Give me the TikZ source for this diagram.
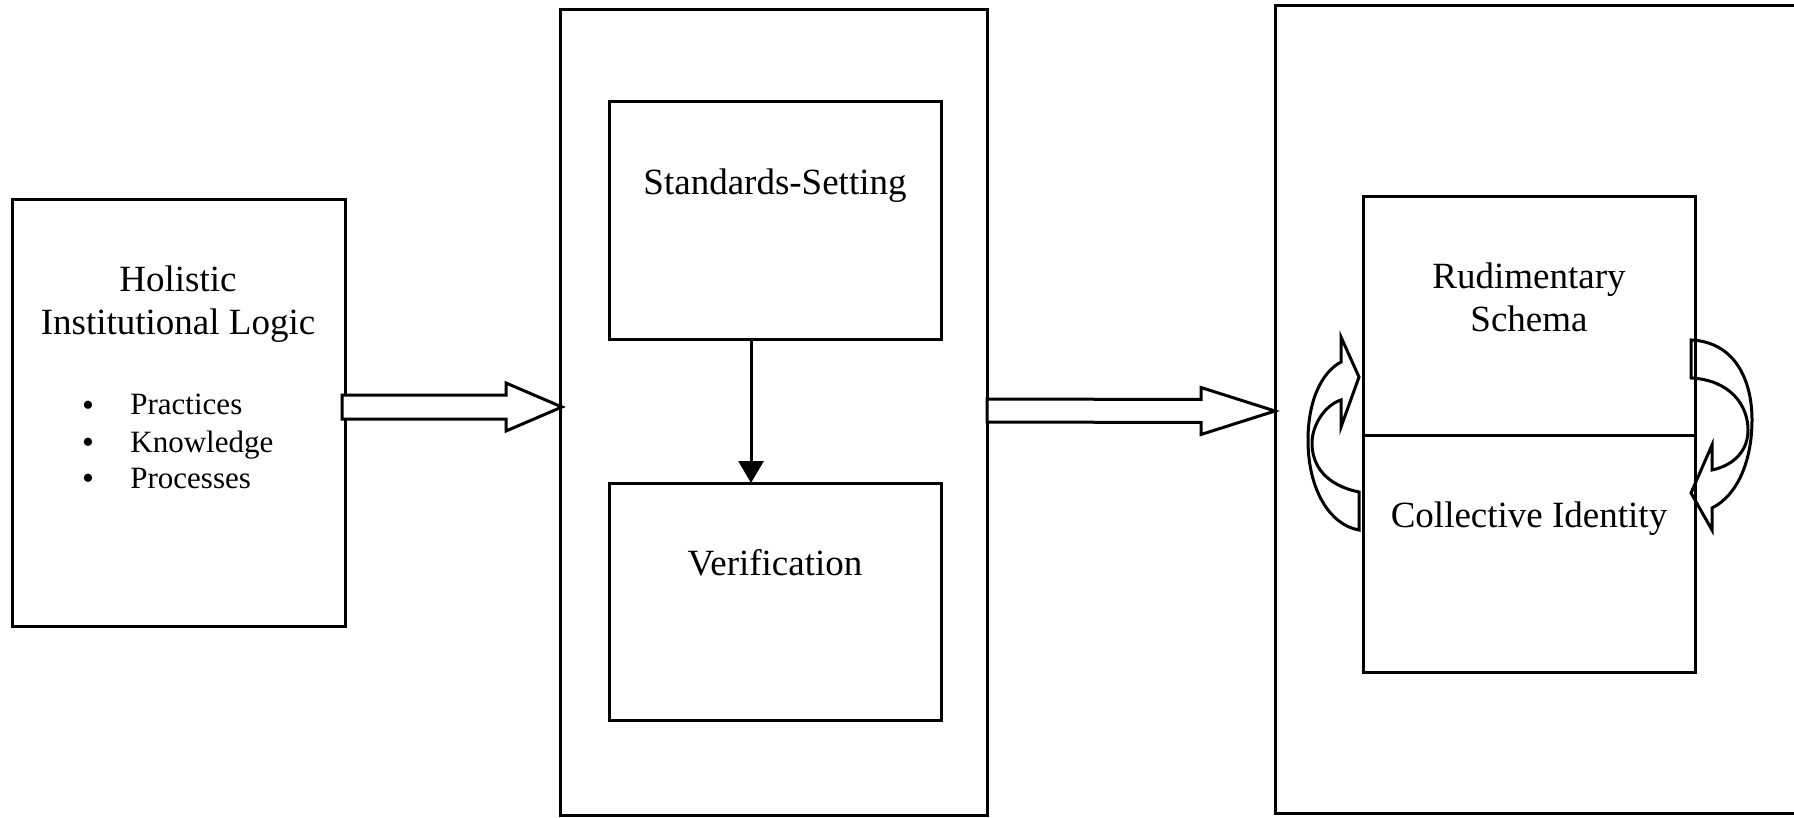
\documentclass[tikz,border=0pt]{standalone}
\usepackage{fontspec}
\setmainfont{Liberation Serif}
\usetikzlibrary{arrows.meta,calc}
\begin{document}
\begin{tikzpicture}[x=0.5pt,y=-0.5pt,
  box/.style={draw=black,line width=1.5pt,rectangle,inner sep=0pt,outer sep=0pt,fill=white},
  lbl/.style={anchor=base,inner sep=0pt,font=\fontsize{18.5pt}{22pt}\selectfont},
  itm/.style={anchor=base west,inner sep=0pt,font=\fontsize{15.5pt}{18pt}\selectfont},
  dot/.style={anchor=base,inner sep=0pt,text height=8pt,text depth=0pt,font=\fontsize{17pt}{18pt}\selectfont},
  blk/.style={draw=black,line width=1.5pt,fill=white,line join=miter},
  curv/.style={draw=black,line width=1.5pt,line join=miter},
  link/.style={line width=1.5pt,-{Triangle[width=12.5pt,length=11pt]}}]
\clip (0,0) rectangle (1794,818);
\fill[white] (0,0) rectangle (1794,818);

% boxes
\node[box,minimum width=166.5pt,minimum height=213pt] (lbox) at (178.5,413) {};
\node[box,minimum width=213.5pt,minimum height=402.5pt] (mid) at (773.5,412.5) {};
\node[box,minimum width=166pt,minimum height=119pt] (std) at (775,221) {};
\node[box,minimum width=166pt,minimum height=118.5pt] (ver) at (775,601.5) {};
\node[box,minimum width=312.5pt,minimum height=403.5pt] (rbig) at (1587.5,409.5) {};
\node[box,minimum width=166pt,minimum height=119pt] (rud) at (1529,316) {};
\node[box,minimum width=166pt,minimum height=118.5pt] (coll) at (1529,553.5) {};

% texts
\node[lbl] (t1) at (178,292) {Holistic};
\node[lbl] (t2) at (178,335) {Institutional Logic};
\node[dot] (b1) at (88,416) {•};
\node[dot] (b2) at (88,453) {•};
\node[dot] (b3) at (88,489) {•};
\node[itm] (i1) at (130,415) {Practices};
\node[itm] (i2) at (130,452) {Knowledge};
\node[itm] (i3) at (130,488) {Processes};
\node[lbl] (t3) at (775,195) {Standards-Setting};
\node[lbl] (t4) at (775,575) {Verification};
\node[lbl] (t5) at (1529,289) {Rudimentary};
\node[lbl] (t6) at (1529,332) {Schema};
\node[lbl] (t7) at (1529,527) {Collective Identity};

% vertical arrow
\draw[link] ([xshift=-12pt]std.south) -- ([xshift=-12pt]ver.north);

% block arrow 1
\coordinate (a1s) at ($(lbox.east)+(-3,-6)$);
\coordinate (a1t) at ($(mid.west)+(2,-5.5)$);
\draw[blk] ([yshift=6pt]a1s) -- ([xshift=-28pt,yshift=6pt]a1t) -- ([xshift=-28pt,yshift=12pt]a1t)
  -- (a1t) -- ([xshift=-28pt,yshift=-12pt]a1t) -- ([xshift=-28pt,yshift=-6pt]a1t)
  -- ([yshift=-6pt]a1s) -- cycle;

% block arrow 2
\coordinate (a2s) at ($(mid.east)+(0,-2)$);
\coordinate (a2t) at ($(rbig.west)+(0,1.5)$);
\draw[blk] ([yshift=5.75pt]a2s) -- ([xshift=-37pt,yshift=5.75pt]a2t) -- ([xshift=-37pt,yshift=11.75pt]a2t)
  -- (a2t) -- ([xshift=-37pt,yshift=-11.75pt]a2t) -- ([xshift=-37pt,yshift=-5.75pt]a2t)
  -- ([yshift=-5.75pt]a2s) -- cycle;

% left curved arrow
\draw[curv] (1359,530) -- (1359,492)
  .. controls (1325,485) and (1312,465) .. (1312,443)
  .. controls (1312,425) and (1325,405) .. (1341,400)
  -- (1341,427) -- (1359,377) -- (1341,337) -- (1341,362)
  .. controls (1322,372) and (1308,400) .. (1308,440)
  .. controls (1308,490) and (1330,525) .. (1359,530) -- cycle;

% right curved arrow
\draw[curv] (1691,340) -- (1691,378)
  .. controls (1730,380) and (1748,405) .. (1748,430)
  .. controls (1748,450) and (1735,465) .. (1712,470)
  -- (1712,445) -- (1691,493) -- (1712,530) -- (1712,508)
  .. controls (1738,495) and (1752,460) .. (1752,420)
  .. controls (1752,380) and (1735,342) .. (1691,340) -- cycle;
\end{tikzpicture}
\end{document}
